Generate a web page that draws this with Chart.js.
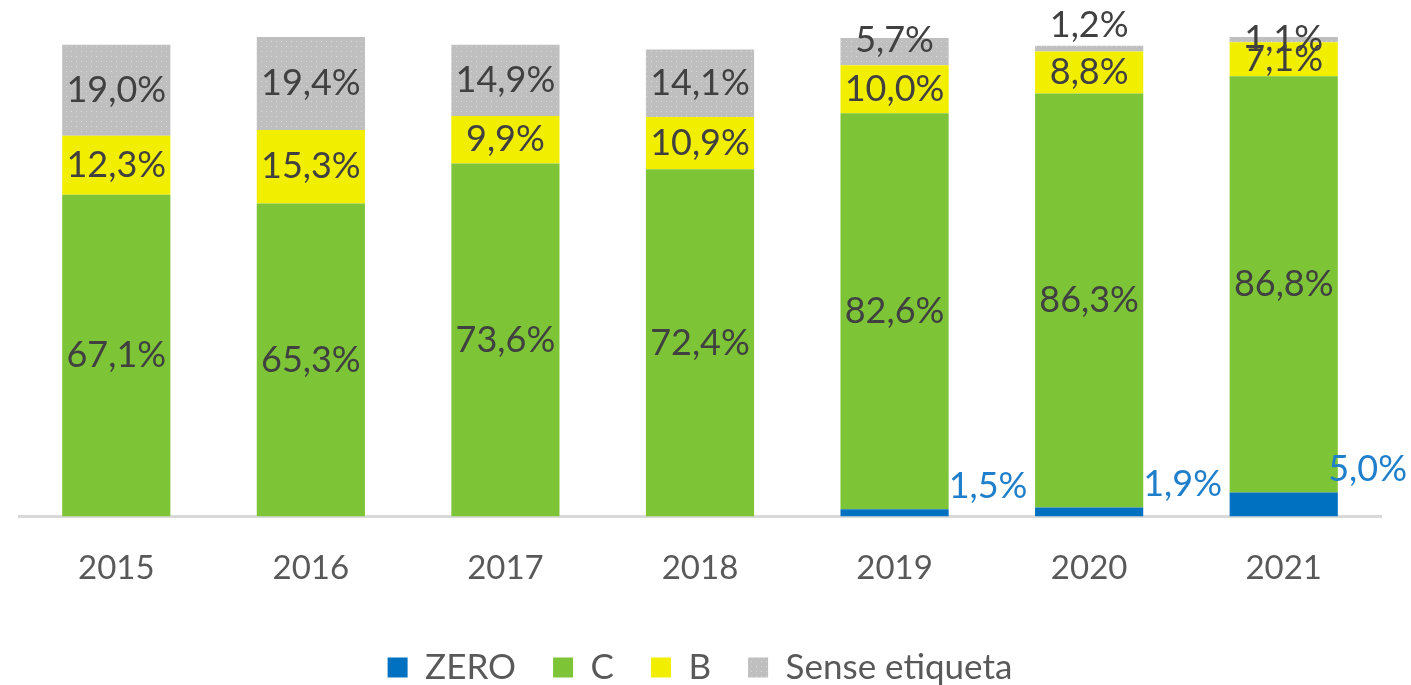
<!DOCTYPE html>
<html>
<head>
<meta charset="utf-8">
<script src="https://cdn.jsdelivr.net/npm/chart.js@4/dist/chart.umd.min.js"></script>
<style>
  html, body { margin: 0; padding: 0; background: #fff; }
  #wrap { width: 1411px; height: 685px; }
</style>
</head>
<body>
<div id="wrap"><canvas id="barChart" width="1411" height="685"></canvas></div>
<script>
const years = ['2015', '2016', '2017', '2018', '2019', '2020', '2021'];
const zero  = [0, 0, 0, 0, 1.5, 1.9, 5.0];
const classC = [67.1, 65.3, 73.6, 72.4, 82.6, 86.3, 86.8];
const classB = [12.3, 15.3, 9.9, 10.9, 10.0, 8.8, 7.1];
const senseEtiqueta = [19.0, 19.4, 14.9, 14.1, 5.7, 1.2, 1.1];
const seriesNames = ['ZERO', 'C', 'B', 'Sense etiqueta'];

const FONT = 'Lato, "Open Sans", sans-serif';

// trama puntejada del gris (com a l'Excel)
function dottedPattern() {
  const c = document.createElement('canvas');
  c.width = 10; c.height = 10;
  const g = c.getContext('2d');
  g.fillStyle = '#BFBFBF';
  g.fillRect(0, 0, 10, 10);
  g.fillStyle = '#DCDCDC';
  g.fillRect(1, 1, 1, 1);
  g.fillRect(6, 6, 1, 1);
  g.fillStyle = '#D2D2D2';
  g.fillRect(6, 1, 1, 1);
  g.fillRect(1, 6, 1, 1);
  return g.createPattern(c, 'repeat');
}

const fmt = v => v.toFixed(1).replace('.', ',') + '%';

// etiquetes de dades dins/al costat de cada segment
const barLabels = {
  id: 'barLabels',
  afterDatasetsDraw(chart, args, opts) {
    const ctx = chart.ctx;
    ctx.save();
    ctx.font = '36px ' + FONT;
    ctx.textBaseline = 'middle';
    chart.data.datasets.forEach((ds, di) => {
      const meta = chart.getDatasetMeta(di);
      meta.data.forEach((bar, i) => {
        const v = ds.data[i];
        if (!v) return;
        const p = bar.getProps(['x', 'y', 'base', 'width'], true);
        const txt = fmt(v);
        if (di === 0) {
          // ZERO: a la dreta de la barra, per sobre del segment
          ctx.fillStyle = '#1F7FCB';
          ctx.textAlign = 'left';
          let x = p.x + p.width / 2;
          const w = ctx.measureText(txt).width;
          if (x + w > chart.width - 4) x = chart.width - 4 - w;
          ctx.fillText(txt, x, p.y - 23);
        } else {
          ctx.fillStyle = '#404040';
          ctx.textAlign = 'center';
          const nudge = (opts.nudge[di] && opts.nudge[di][i]) || 0;
          ctx.fillText(txt, p.x, (p.y + p.base) / 2 + nudge);
        }
      });
    });
    ctx.restore();
  }
};

const ctx = document.getElementById('barChart').getContext('2d');
new Chart(ctx, {
  type: 'bar',
  data: {
    labels: years,
    datasets: [
      { label: seriesNames[0], data: zero, backgroundColor: '#0070C0' },
      { label: seriesNames[1], data: classC, backgroundColor: '#7DC437' },
      { label: seriesNames[2], data: classB, backgroundColor: '#F2EE00' },
      { label: seriesNames[3], data: senseEtiqueta, backgroundColor: dottedPattern() }
    ]
  },
  options: {
    responsive: false,
    animation: false,
    events: [],
    layout: { padding: { top: 37, left: 19, right: 30, bottom: -10 } },
    datasets: { bar: { categoryPercentage: 0.556, barPercentage: 1 } },
    scales: {
      x: {
        stacked: true,
        grid: { display: false },
        border: { display: true, color: '#D9D9D9', width: 3 },
        ticks: { color: '#595959', font: { family: FONT, size: 33, lineHeight: 1.045 }, padding: 27 }
      },
      y: { stacked: true, display: false, min: 0, max: 100 }
    },
    plugins: {
      legend: {
        position: 'bottom',
        labels: {
          color: '#595959',
          font: { family: FONT, size: 35 },
          boxWidth: 20,
          boxHeight: 20,
          padding: 37
        }
      },
      tooltip: { enabled: false },
      barLabels: {
        // desplaçaments manuals d'algunes etiquetes grises (px)
        nudge: { 3: [0, 0, 0, 0, -11, -23, 0] }
      }
    }
  },
  plugins: [barLabels]
});
</script>
</body>
</html>
